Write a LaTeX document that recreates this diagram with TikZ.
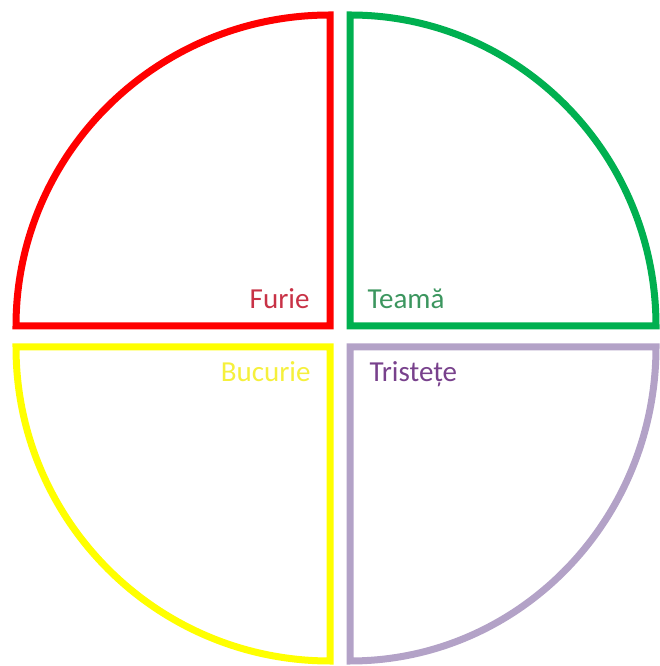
\documentclass[tikz,border=0pt]{standalone}
\usepackage{fontspec}
\setmainfont{Carlito}
\definecolor{furiered}{RGB}{255,0,0}
\definecolor{teamagreen}{RGB}{0,176,80}
\definecolor{bucurieyellow}{RGB}{255,255,0}
\definecolor{tristetelilac}{RGB}{179,162,199}
\definecolor{furietext}{RGB}{200,50,70}
\definecolor{teamatext}{RGB}{60,150,95}
\definecolor{bucurietext}{RGB}{245,240,60}
\definecolor{tristetetext}{RGB}{120,65,140}

\begin{document}
\begin{tikzpicture}[x=1pt,y=1pt,line width=7pt]
  \useasboundingbox (0,0) rectangle (659,666);
  % four quarters
  \draw[furiered] (330,340) -- (16,340)
    arc[start angle=180,end angle=90,x radius=314,y radius=311] -- cycle;
  \draw[teamagreen] (350,340) -- (350,651)
    arc[start angle=90,end angle=0,x radius=306,y radius=311] -- cycle;
  \draw[bucurieyellow] (330,319) -- (16,319)
    arc[start angle=180,end angle=270,x radius=314,y radius=314] -- cycle;
  \draw[tristetelilac] (350,319) -- (656,319)
    arc[start angle=0,end angle=-90,x radius=306,y radius=314] -- cycle;
  % labels
  \node[furietext,anchor=base east,inner sep=0pt,font=\fontsize{29}{32}\selectfont]
    (furie) at (313,357) {Furie};
  \node[teamatext,anchor=base west,inner sep=0pt,font=\fontsize{29}{32}\selectfont]
    (teama) at (364,357) {Teamă};
  \node[bucurietext,anchor=base east,inner sep=0pt,font=\fontsize{29}{32}\selectfont]
    (bucurie) at (314,284) {Bucurie};
  \node[tristetetext,anchor=base west,inner sep=0pt,font=\fontsize{29}{32}\selectfont]
    (tristete) at (366,284) {Tristețe};
\end{tikzpicture}
\end{document}
